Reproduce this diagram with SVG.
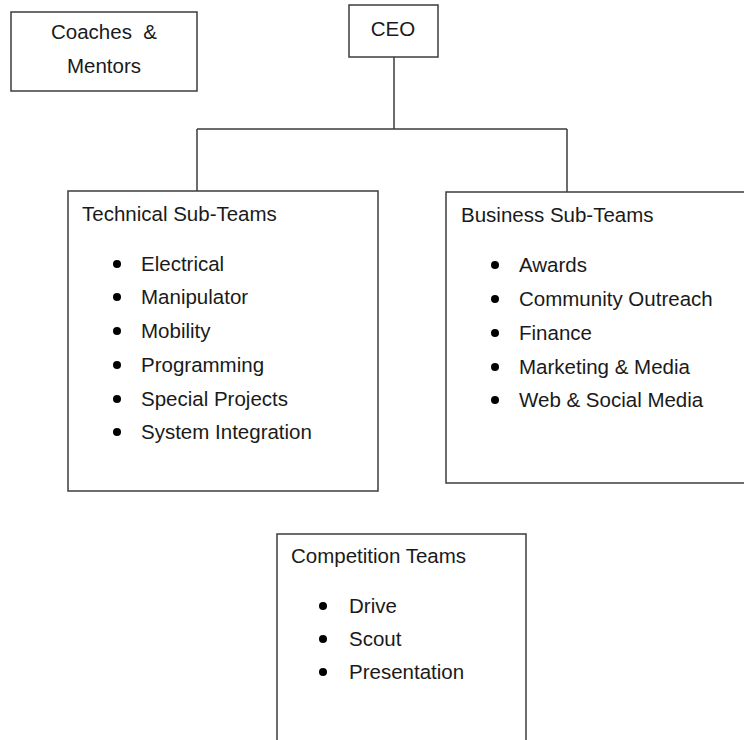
<svg xmlns="http://www.w3.org/2000/svg" width="744" height="740" viewBox="0 0 744 740">
<style>
.box{fill:#fff;stroke:#3c3c3c;stroke-width:1.5}
.ln{fill:none;stroke:#3c3c3c;stroke-width:1.5}
text{font-family:"Liberation Sans",Arial,sans-serif;font-size:20.5px;fill:#1a1a1a;white-space:pre}
.c{text-anchor:middle}
.b{fill:#000}
</style>
<rect width="744" height="740" fill="#fff"/>
<g id="connectors">
<path class="ln" d="M394 57 V129 M197 129 H567 M197 129 V191 M567 129 V192"/>
</g>
<g id="coaches">
<rect class="box" x="11" y="12" width="186" height="79"/>
<text class="c" x="104" y="39" xml:space="preserve">Coaches  &amp;</text>
<text class="c" x="104" y="73">Mentors</text>
</g>
<g id="ceo">
<rect class="box" x="349" y="5" width="89" height="52"/>
<text class="c" x="393" y="36">CEO</text>
</g>
<g id="technical">
<rect class="box" x="68" y="191" width="310" height="300"/>
<text x="82" y="221">Technical Sub-Teams</text>
<circle class="b" cx="117" cy="264" r="4"/><text x="141" y="271">Electrical</text>
<circle class="b" cx="117" cy="297" r="4"/><text x="141" y="304">Manipulator</text>
<circle class="b" cx="117" cy="331" r="4"/><text x="141" y="338">Mobility</text>
<circle class="b" cx="117" cy="365" r="4"/><text x="141" y="372">Programming</text>
<circle class="b" cx="117" cy="399" r="4"/><text x="141" y="406">Special Projects</text>
<circle class="b" cx="117" cy="432" r="4"/><text x="141" y="439">System Integration</text>
</g>
<g id="business">
<rect class="box" x="446" y="192" width="310" height="291"/>
<text x="461" y="222">Business Sub-Teams</text>
<circle class="b" cx="495" cy="265" r="4"/><text x="519" y="272">Awards</text>
<circle class="b" cx="495" cy="299" r="4"/><text x="519" y="306">Community Outreach</text>
<circle class="b" cx="495" cy="333" r="4"/><text x="519" y="340">Finance</text>
<circle class="b" cx="495" cy="367" r="4"/><text x="519" y="374">Marketing &amp; Media</text>
<circle class="b" cx="495" cy="400" r="4"/><text x="519" y="407">Web &amp; Social Media</text>
</g>
<g id="competition">
<rect class="box" x="277" y="534" width="249" height="220"/>
<text x="291" y="563">Competition Teams</text>
<circle class="b" cx="323" cy="606" r="4"/><text x="349" y="613">Drive</text>
<circle class="b" cx="323" cy="639" r="4"/><text x="349" y="646">Scout</text>
<circle class="b" cx="323" cy="672" r="4"/><text x="349" y="679">Presentation</text>
</g>
</svg>
